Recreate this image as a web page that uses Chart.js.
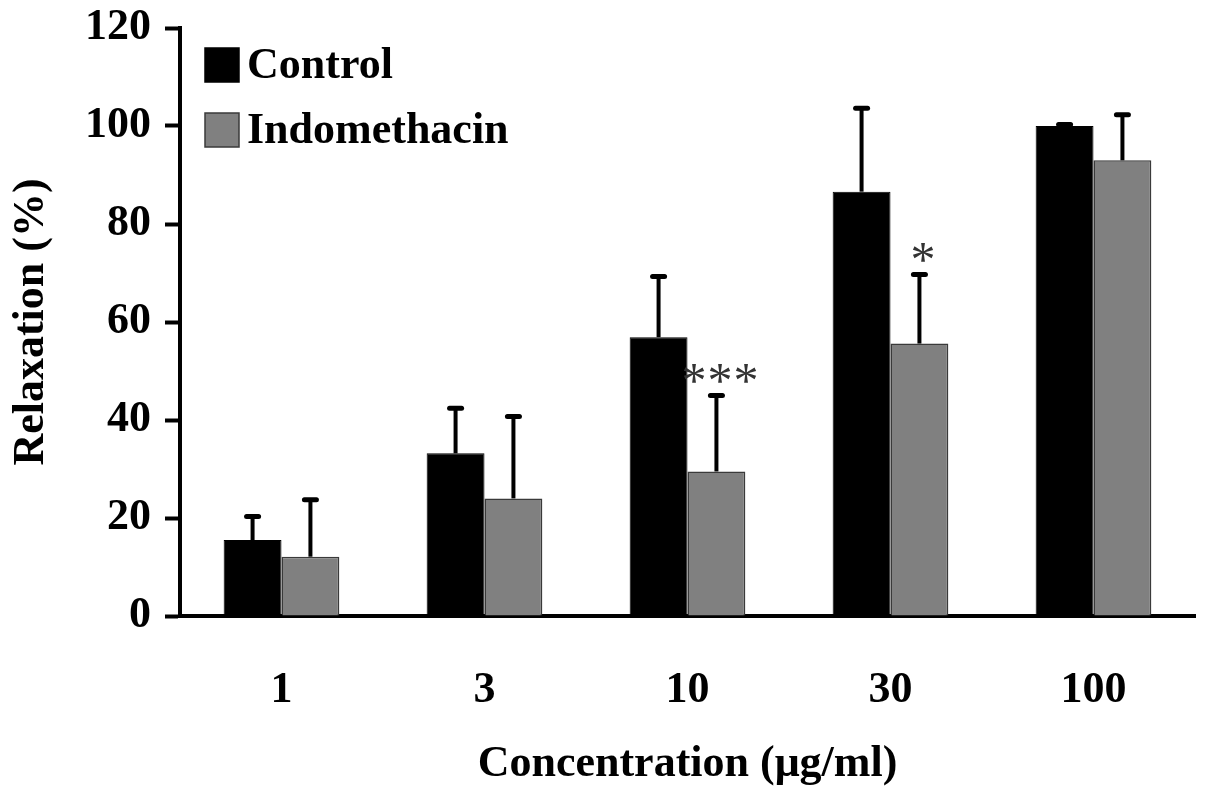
<!DOCTYPE html>
<html>
<head>
<meta charset="utf-8">
<script src="https://cdn.jsdelivr.net/npm/chart.js@4.4.1/dist/chart.umd.min.js"></script>
<style>
    html, body { margin: 0; padding: 0; background: #fff; }
    #wrap { width: 1205px; height: 801px; }
</style>
</head>
<body>
<div id="wrap"><canvas id="relaxChart"></canvas></div>
<script>
// values (mean and upper SEM)
const concentrations = ['1', '3', '10', '30', '100'];
const controlMean = [15.5, 33.2, 56.9, 86.6, 100.0];
const controlErr = [4.8, 9.2, 12.4, 17.0, 0.3];
const indoMean = [12.1, 24.0, 29.5, 55.6, 93.0];
const indoErr = [11.6, 16.7, 15.5, 14.1, 9.3];
const indoMarks = ['', '', '***', '*', ''];
const yMin = 0, yMax = 120, yStep = 20;

const serif = "'Liberation Serif', 'Times New Roman', serif";

document.addEventListener('DOMContentLoaded', () => {
    // error bars (upper only) + significance stars
    const errorBars = {
        id: 'errorBars',
        afterDatasetsDraw(chart) {
            const ctx = chart.ctx;
            const y = chart.scales.y;
            chart.data.datasets.forEach((ds, i) => {
                const meta = chart.getDatasetMeta(i);
                meta.data.forEach((bar, j) => {
                    const top = y.getPixelForValue(ds.data[j] + ds.errors[j]);
                    ctx.save();
                    ctx.strokeStyle = '#000';
                    ctx.lineWidth = 4;
                    ctx.beginPath();
                    ctx.moveTo(bar.x, bar.y);
                    ctx.lineTo(bar.x, top);
                    ctx.stroke();
                    ctx.lineWidth = 5;
                    ctx.lineCap = 'round';
                    ctx.beginPath();
                    ctx.moveTo(bar.x - 6, top);
                    ctx.lineTo(bar.x + 6, top);
                    ctx.stroke();
                    if (ds.marks && ds.marks[j]) {
                        ctx.fillStyle = '#333';
                        ctx.font = '50px ' + serif;
                        ctx.textAlign = 'center';
                        ctx.textBaseline = 'middle';
                        ctx.letterSpacing = '1px';
                        ctx.fillText(ds.marks[j], bar.x + 4, top - 12);
                    }
                    ctx.restore();
                });
            });
        }
    };

    // legend drawn inside the plot, top left
    const innerLegend = {
        id: 'innerLegend',
        afterDraw(chart) {
            const ctx = chart.ctx;
            ctx.save();
            ctx.font = 'bold 44px ' + serif;
            ctx.textBaseline = 'middle';
            ctx.textAlign = 'left';
            chart.data.datasets.forEach((ds, i) => {
                const cy = 65 + i * 65;
                ctx.fillStyle = ds.backgroundColor;
                ctx.fillRect(205, cy - 17, 34, 34);
                ctx.strokeStyle = ds.borderColor;
                ctx.lineWidth = 1.5;
                ctx.strokeRect(205, cy - 17, 34, 34);
                ctx.fillStyle = '#000';
                ctx.fillText(ds.label, 247, cy + 2);
            });
            ctx.restore();
        }
    };

    const relaxCtx = document.getElementById('relaxChart').getContext('2d');
    const relaxChart = new Chart(relaxCtx, {
        type: 'bar',
        data: {
            labels: concentrations,
            datasets: [{
                    label: 'Control',
                    data: controlMean,
                    errors: controlErr,
                    backgroundColor: '#000000',
                    borderColor: '#000000',
                    borderWidth: 1
                },
                {
                    label: 'Indomethacin',
                    data: indoMean,
                    errors: indoErr,
                    marks: indoMarks,
                    backgroundColor: '#808080',
                    borderColor: '#3a3a3a',
                    borderWidth: 1.5
                }
            ]
        },
        options: {
            responsive: true,
            maintainAspectRatio: false,
            animation: false,
            layout: { padding: { left: 5, right: 10, top: 28, bottom: 10 } },
            datasets: { bar: { barPercentage: 1.0, categoryPercentage: 0.57 } },
            plugins: {
                legend: { display: false },
                tooltip: { enabled: false }
            },
            scales: {
                x: {
                    afterFit(scale) { scale.height = 175; },
                    grid: { display: true, drawOnChartArea: false, drawTicks: false },
                    border: { display: true, color: '#000', width: 4 },
                    ticks: {
                        color: '#000',
                        padding: 48,
                        font: { family: serif, size: 44, weight: 'bold' }
                    },
                    title: {
                        display: true,
                        text: 'Concentration (μg/ml)',
                        color: '#000',
                        padding: { top: 0, bottom: 0 },
                        font: { family: serif, size: 44, weight: 'bold' }
                    }
                },
                y: {
                    min: yMin,
                    max: yMax,
                    afterFit(scale) {
                        scale.width = 175;
                        scale.paddingTop = 0;
                        scale.paddingBottom = 0;
                    },
                    grid: {
                        drawOnChartArea: false,
                        drawTicks: true,
                        tickLength: 15,
                        tickWidth: 4,
                        tickColor: '#000'
                    },
                    border: { display: true, color: '#000', width: 4 },
                    ticks: {
                        stepSize: yStep,
                        color: '#000',
                        padding: 14,
                        font: { family: serif, size: 44, weight: 'bold' }
                    },
                    title: {
                        display: true,
                        text: 'Relaxation (%)',
                        color: '#000',
                        padding: { top: 0, bottom: 0 },
                        font: { family: serif, size: 44, weight: 'bold' }
                    }
                }
            }
        },
        plugins: [errorBars, innerLegend]
    });
});
</script>
</body>
</html>
